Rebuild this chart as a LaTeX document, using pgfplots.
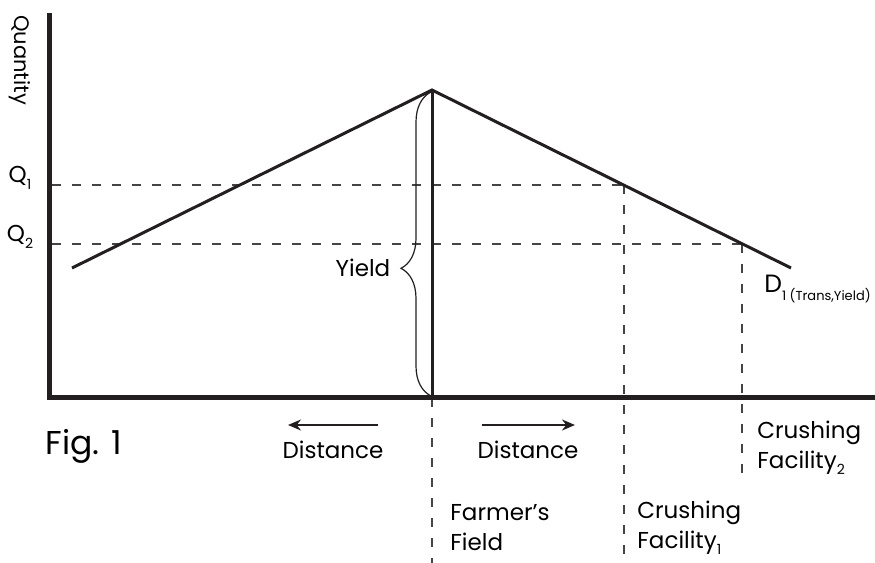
\documentclass[border=0pt]{standalone}
\usepackage{pgfplots}
\pgfplotsset{compat=1.18}
\usepackage{fontspec}
\setmainfont{Poppins}
\usetikzlibrary{arrows.meta,decorations.pathreplacing}
\definecolor{ink}{HTML}{231F20}
\definecolor{dashgray}{HTML}{444444}
\newcommand\sub[1]{\raisebox{-0.5ex}{\fontsize{7}{7}\selectfont #1}}
\newcommand\tsize{\fontsize{11.5}{15}\selectfont}
\begin{document}
\begin{tikzpicture}
\begin{axis}[x=0.5pt,y=0.5pt,xmin=0,xmax=875,ymin=0,ymax=563,
  hide axis, scale only axis, clip=false]
% dashed guides
\addplot[dashgray, line width=0.75pt, dash pattern=on 4.5pt off 5.5pt] coordinates {(52,378) (624,378)};
\addplot[dashgray, line width=0.75pt, dash pattern=on 4.5pt off 5.5pt] coordinates {(52,319) (742,319)};
\addplot[dashgray, line width=0.75pt, dash pattern=on 4.5pt off 5.5pt] coordinates {(624,378) (624,0)};
\addplot[dashgray, line width=0.75pt, dash pattern=on 4.5pt off 5.5pt] coordinates {(742,319) (742,86)};
\addplot[dashgray, line width=0.75pt, dash pattern=on 4.5pt off 5.5pt] coordinates {(432,165) (432,0)};
% axes
\addplot[ink, line width=2.5pt, line join=miter] coordinates {(49,550) (49,165) (875,165)};
% demand lines
\addplot[ink, line width=1.5pt, line join=miter] coordinates {(72,295) (432,473) (791,295)};
\addplot[ink, line width=1.5pt] coordinates {(432,473) (432,165)};
% brace
\addplot[ink, line width=0.6pt, decorate, decoration={brace, amplitude=15pt, aspect=0.42}] coordinates {(431,167) (431,471)};
% arrows
\addplot[ink, line width=1pt, -{Stealth[length=6.5pt,width=5.5pt]}] coordinates {(378,138) (288,138)};
\addplot[ink, line width=1pt, -{Stealth[length=6.5pt,width=5.5pt]}] coordinates {(482,138) (575,138)};
% labels
\node[rotate=-90, font=\fontsize{10.5}{12}\selectfont] at (axis cs:20,503) {Quantity};
\node[font=\fontsize{11.5}{12}\selectfont] at (axis cs:20,385) {Q\sub{1}};
\node[font=\fontsize{11.5}{12}\selectfont] at (axis cs:20,326) {Q\sub{2}};
\node[font=\tsize] at (axis cs:363,295) {Yield};
\node[anchor=west, inner sep=0pt, font=\fontsize{12.5}{14}\selectfont] at (axis cs:764,274) {D\raisebox{-0.6ex}{\fontsize{6.5}{7}\selectfont 1 (Trans,Yield)}};
\node[anchor=west, inner sep=0pt, font=\fontsize{16.5}{18}\selectfont] at (axis cs:45,117) {Fig. 1};
\node[font=\tsize] at (axis cs:333,113) {Distance};
\node[font=\tsize] at (axis cs:528,113) {Distance};
\node[anchor=west, inner sep=0pt, align=left, font=\tsize] at (axis cs:450,35.5) {Farmer’s\\Field};
\node[anchor=west, inner sep=0pt, align=left, font=\tsize] at (axis cs:637,35.5) {Crushing\\Facility\sub{1}};
\node[anchor=west, inner sep=0pt, align=left, font=\tsize] at (axis cs:757,115) {Crushing\\Facility\sub{2}};
\end{axis}
\pgfresetboundingbox
\path (current axis.south west) rectangle (current axis.north east);
\end{tikzpicture}
\end{document}
